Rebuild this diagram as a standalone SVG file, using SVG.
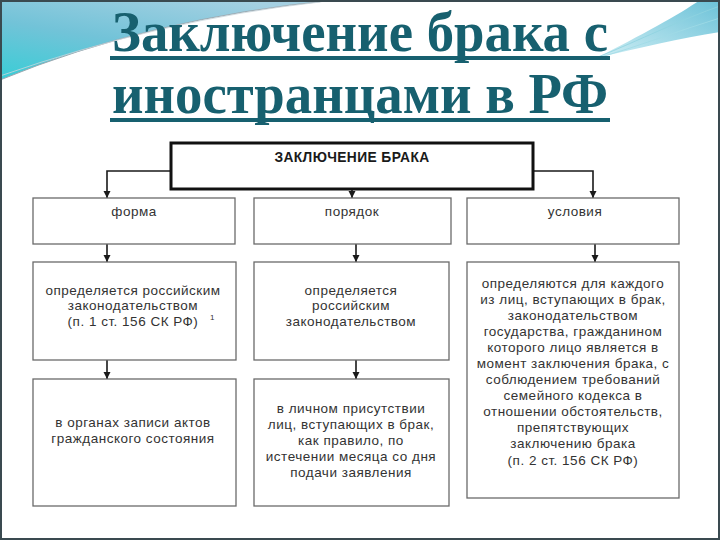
<svg xmlns="http://www.w3.org/2000/svg" width="720" height="540" viewBox="0 0 720 540">
<defs>
<linearGradient id="gl" x1="0" y1="1" x2="0.7" y2="0">
<stop offset="0" stop-color="#38cdd6"/>
<stop offset="0.5" stop-color="#72c3d8"/>
<stop offset="1" stop-color="#a4d0e2"/>
</linearGradient>
<linearGradient id="gr" x1="1" y1="0" x2="0" y2="1">
<stop offset="0" stop-color="#6cc2d8"/>
<stop offset="1" stop-color="#cfeef4"/>
</linearGradient>
<marker id="ah" markerWidth="8" markerHeight="8" refX="7" refY="4" orient="auto" markerUnits="userSpaceOnUse">
<path d="M0,0.5 L7,4 L0,7.5 Z" fill="#1a1a1a"/>
</marker>
<style>
.t{font-family:"Liberation Sans",Arial,sans-serif;font-size:13.5px;fill:#333333;text-anchor:middle;letter-spacing:0.5px}
.box{fill:#ffffff;stroke:#6a6a6a;stroke-width:1.3}
.c{fill:none;stroke:#1a1a1a;stroke-width:1.6;marker-end:url(#ah)}
.title{font-family:"Liberation Serif","Times New Roman",serif;font-weight:bold;font-size:58px;fill:#17606f}
</style>
</defs>
<rect x="0" y="0" width="720" height="540" fill="#ffffff"/>
<!-- decoration -->
<path d="M0,0 L335,0 Q150,18 0,80 Z" fill="url(#gl)"/>
<path d="M0,80 Q150,18 335,0" fill="none" stroke="#9aa8b0" stroke-width="1"/>
<path d="M0,76 Q160,20 320,2" fill="none" stroke="#c9d6dc" stroke-width="0.8"/>
<path d="M720,0 L720,32 C680,38 640,48 596,58 C640,36 680,14 700,0 Z" fill="url(#gr)"/>
<path d="M720,6 C680,20 640,40 598,57" fill="none" stroke="#8fd3e0" stroke-width="0.8"/>
<path d="M720,18 C680,30 640,46 598,58" fill="none" stroke="#9fdbe6" stroke-width="0.8"/>
<rect x="1" y="1" width="718" height="538" fill="none" stroke="#3a4a50" stroke-width="2"/>
<!-- title -->
<g id="title">
<text class="title" x="112" y="51" textLength="496" lengthAdjust="spacingAndGlyphs">Заключение брака с</text>
<rect x="110" y="56" width="500" height="4" fill="#17606f"/>
<text class="title" x="112" y="113" textLength="496" lengthAdjust="spacingAndGlyphs">иностранцами в РФ</text>
<rect x="110" y="118" width="500" height="4" fill="#17606f"/>
</g>
<!-- connectors -->
<g id="connectors">
<path class="c" d="M171,171 H107 V198"/>
<path class="c" d="M352,189 V198"/>
<path class="c" d="M533,171 H593 V198"/>
<path class="c" d="M107,244 V262"/>
<path class="c" d="M356,244 V262"/>
<path class="c" d="M595,244 V262"/>
<path class="c" d="M107,360 V379"/>
<path class="c" d="M356,360 V379"/>
</g>
<g id="root">
<rect x="171" y="143" width="362" height="46" fill="#ffffff" stroke="#111" stroke-width="3"/>
<text x="352" y="162" font-family="Liberation Sans,Arial,sans-serif" font-size="13.8px" font-weight="bold" fill="#1a1a1a" text-anchor="middle" letter-spacing="0.4">ЗАКЛЮЧЕНИЕ БРАКА</text>
</g>
<g id="forma">
<rect class="box" x="33" y="198" width="202" height="46"/>
<text class="t" x="134" y="216">форма</text>
</g>
<g id="poryadok">
<rect class="box" x="254" y="198" width="197" height="46"/>
<text class="t" x="352" y="216">порядок</text>
</g>
<g id="usloviya">
<rect class="box" x="467" y="198" width="212" height="46"/>
<text class="t" x="575" y="216">условия</text>
</g>
<g id="forma2">
<rect class="box" x="33" y="262" width="203" height="98"/>
<text class="t" x="133" y="295">определяется российским</text>
<text class="t" x="133" y="310">законодательством</text>
<text class="t" x="133" y="326">(п. 1 ст. 156 СК РФ)</text>
<text x="210" y="320" font-family="Liberation Sans,Arial,sans-serif" font-size="8px" fill="#333333">1</text>
</g>
<g id="poryadok2">
<rect class="box" x="254" y="262" width="195" height="98"/>
<text class="t" x="351" y="295">определяется</text>
<text class="t" x="351" y="310">российским</text>
<text class="t" x="351" y="326">законодательством</text>
</g>
<g id="usloviya2">
<rect class="box" x="467" y="262" width="212" height="236"/>
<text class="t" x="573" y="288">определяются для каждого</text>
<text class="t" x="573" y="304">из лиц, вступающих в брак,</text>
<text class="t" x="573" y="320">законодательством</text>
<text class="t" x="573" y="336">государства, гражданином</text>
<text class="t" x="573" y="352">которого лицо является в</text>
<text class="t" x="573" y="368">момент заключения брака, с</text>
<text class="t" x="573" y="384">соблюдением требований</text>
<text class="t" x="573" y="400">семейного кодекса в</text>
<text class="t" x="573" y="416">отношении обстоятельств,</text>
<text class="t" x="573" y="432">препятствующих</text>
<text class="t" x="573" y="448">заключению брака</text>
<text class="t" x="573" y="465">(п. 2 ст. 156 СК РФ)</text>
</g>
<g id="forma3">
<rect class="box" x="33" y="379" width="203" height="127"/>
<text class="t" x="133" y="427">в органах записи актов</text>
<text class="t" x="133" y="443">гражданского состояния</text>
</g>
<g id="poryadok3">
<rect class="box" x="254" y="379" width="195" height="127"/>
<text class="t" x="351" y="413">в личном присутствии</text>
<text class="t" x="351" y="429">лиц, вступающих в брак,</text>
<text class="t" x="351" y="445">как правило, по</text>
<text class="t" x="351" y="461">истечении месяца со дня</text>
<text class="t" x="351" y="477">подачи заявления</text>
</g>
</svg>
